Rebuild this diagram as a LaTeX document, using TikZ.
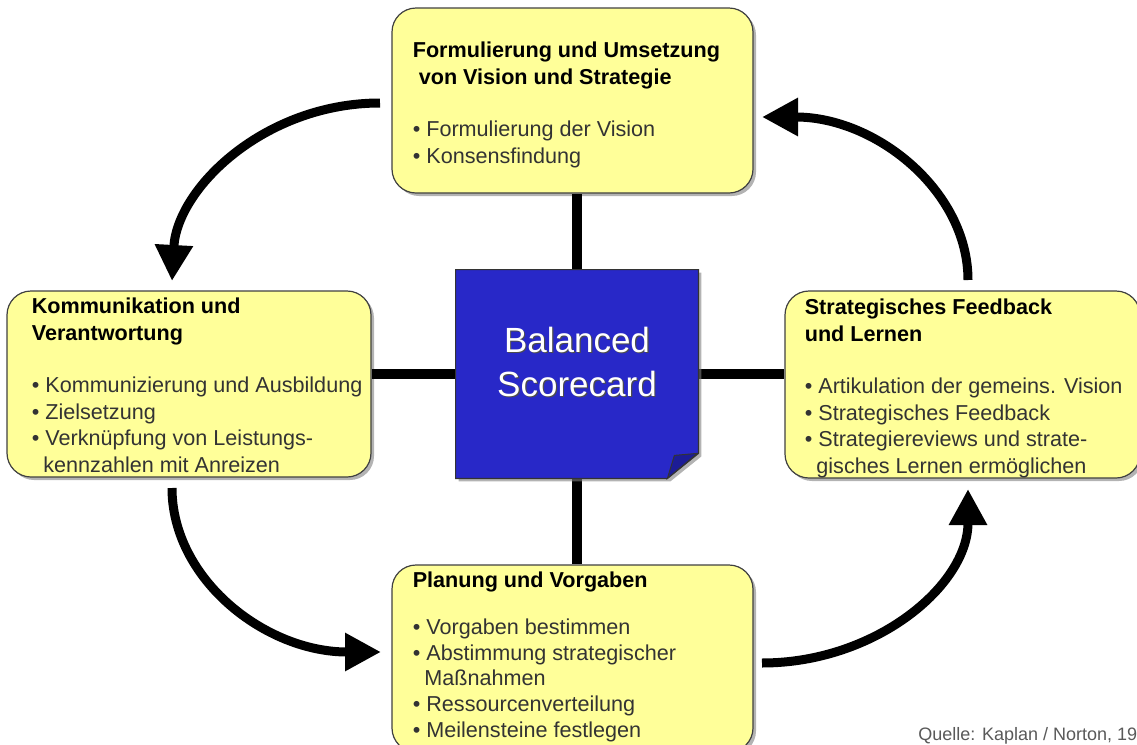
\documentclass[tikz,border=0pt]{standalone}
\usepackage{fontspec}
\setmainfont{Liberation Sans}
\usetikzlibrary{arrows.meta}
\usetikzlibrary{shadows}
\definecolor{notegelb}{RGB}{255,255,153}
\definecolor{bscblau}{RGB}{40,40,200}
\definecolor{faltblau}{RGB}{28,28,150}
\newcommand{\kopf}[1]{{\bfseries\color{black}#1}}
\tikzset{
	feld/.style={draw=black!75, line width=0.6pt, fill=notegelb, rounded corners=12pt, inner sep=0pt, drop shadow={shadow xshift=1.5pt, shadow yshift=-1.5pt, opacity=0.6}},
	feldtext/.style={anchor=north west, inner sep=0pt, align=left, text=black!80, font=\fontsize{10.8pt}{13.3pt}\selectfont},
	% weisse Schrift auf dem blauen Blatt
	bsctext/.style={inner sep=0pt, align=center, text=white, font=\fontsize{17.5pt}{22pt}\selectfont},
	steg/.style={line width=5pt, black},
	zyklus/.style={line width=4.5pt, black, -{Triangle[length=18pt, width=18pt]}},
}

\begin{document}
\begin{tikzpicture}[x=0.5pt, y=-0.5pt]
	\useasboundingbox (0,0) rectangle (1137,745);

	\node (vision) [feld, minimum width=180.5pt, minimum height=92.5pt] at (572.5,100.5) {};
	\node (komm) [feld, minimum width=182pt, minimum height=93pt] at (189,384) {};
	\node (feedback) [feld, minimum width=177.5pt, minimum height=93.5pt] at (962.5,384.5) {};
	\node (planung) [feld, minimum width=180.5pt, minimum height=93.5pt] at (572.5,658.5) {};
	\node (bsc) [minimum width=121pt, minimum height=104pt, inner sep=0pt] at (577,374) {};

	\begin{scope}[steg]
		\draw (bsc.north) -- (bsc.north |- vision.south);
		\draw (bsc.south) -- (bsc.south |- planung.north);
		\draw (bsc.west) -- (bsc.west -| komm.east);
		\draw (bsc.east) -- (bsc.east -| feedback.west);
	\end{scope}

	% Blatt mit Eselsohr
	\path [draw=black!80, line width=0.6pt, fill=bscblau, drop shadow={shadow xshift=1.5pt, shadow yshift=-1.5pt, opacity=0.6}]
		(bsc.north west) -- (bsc.north east) -- ([yshift=12.5pt]bsc.south east)
		-- ([xshift=-15.5pt]bsc.south east) -- (bsc.south west) -- cycle;
	\path [draw=black!80, line width=0.5pt, fill=faltblau]
		([xshift=-0.5pt, yshift=12.5pt]bsc.south east) -- ([xshift=-12pt, yshift=11.5pt]bsc.south east)
		-- ([xshift=-15.5pt]bsc.south east) -- cycle;

	\node (bscschatten) [bsctext, text=black!70] at ([xshift=0.6pt, yshift=5.4pt]bsc.center) {Balanced\\Scorecard};
	\node (bsclabel) [bsctext] at ([yshift=6pt]bsc.center) {Balanced\\Scorecard};

	\node (visiontxt) [feldtext] at ([xshift=10.5pt, yshift=-17pt]vision.north west)
		{\kopf{Formulierung und Umsetzung}\\ \kopf{\hspace*{3pt}von Vision und Strategie}\\[13pt]
		• Formulierung der Vision\\ • Konsensfindung};
	\node (kommtxt) [feldtext] at ([xshift=12.5pt, yshift=-3.5pt]komm.north west)
		{\kopf{Kommunikation und}\\ \kopf{Verantwortung}\\[13pt]
		• Kommunizierung und Ausbildung\\ • Zielsetzung\\ • Verknüpfung von Leistungs-\\ \hspace*{5.8pt}kennzahlen mit Anreizen};
	\node (feedbacktxt) [feldtext] at ([xshift=10pt, yshift=-4pt]feedback.north west)
		{\kopf{Strategisches Feedback}\\ \kopf{und Lernen}\\[13pt]
		• Artikulation der gemeins. Vision\\ • Strategisches Feedback\\ • Strategiereviews und strate-\\ \hspace*{5.8pt}gisches Lernen ermöglichen};
	\node (planungtxt) [feldtext, font=\fontsize{10.8pt}{12.9pt}\selectfont] at ([xshift=10.5pt, yshift=-3.5pt]planung.north west)
		{\kopf{Planung und Vorgaben}\\[10.5pt]
		• Vorgaben bestimmen\\ • Abstimmung strategischer\\ \hspace*{5.8pt}Maßnahmen\\ • Ressourcenverteilung\\ • Meilensteine festlegen};

	\node (quelle) [anchor=base west, inner sep=0pt, text=black!65, font=\fontsize{9pt}{10pt}\selectfont] at (918,740) {Quelle: Kaplan / Norton, 19};

	\coordinate (vk1) at (380,103);
	\coordinate (vk2) at (172,281);
	\coordinate (kp1) at (172,488);
	\coordinate (kp2) at (381,652);
	\coordinate (pf1) at (762,663);
	\coordinate (pf2) at (968,489);
	\coordinate (fv1) at (968,280);
	\coordinate (fv2) at (762,117);

	\begin{scope}[zyklus]
		\draw (vk1) .. controls (265,103) and (177,188) .. (vk2);
		\draw (kp1) .. controls (172,579) and (265,652) .. (kp2);
		\draw (pf1) .. controls (876,663) and (968,585) .. (pf2);
		\draw (fv1) .. controls (968,191) and (876,117) .. (fv2);
	\end{scope}
\end{tikzpicture}
\end{document}
